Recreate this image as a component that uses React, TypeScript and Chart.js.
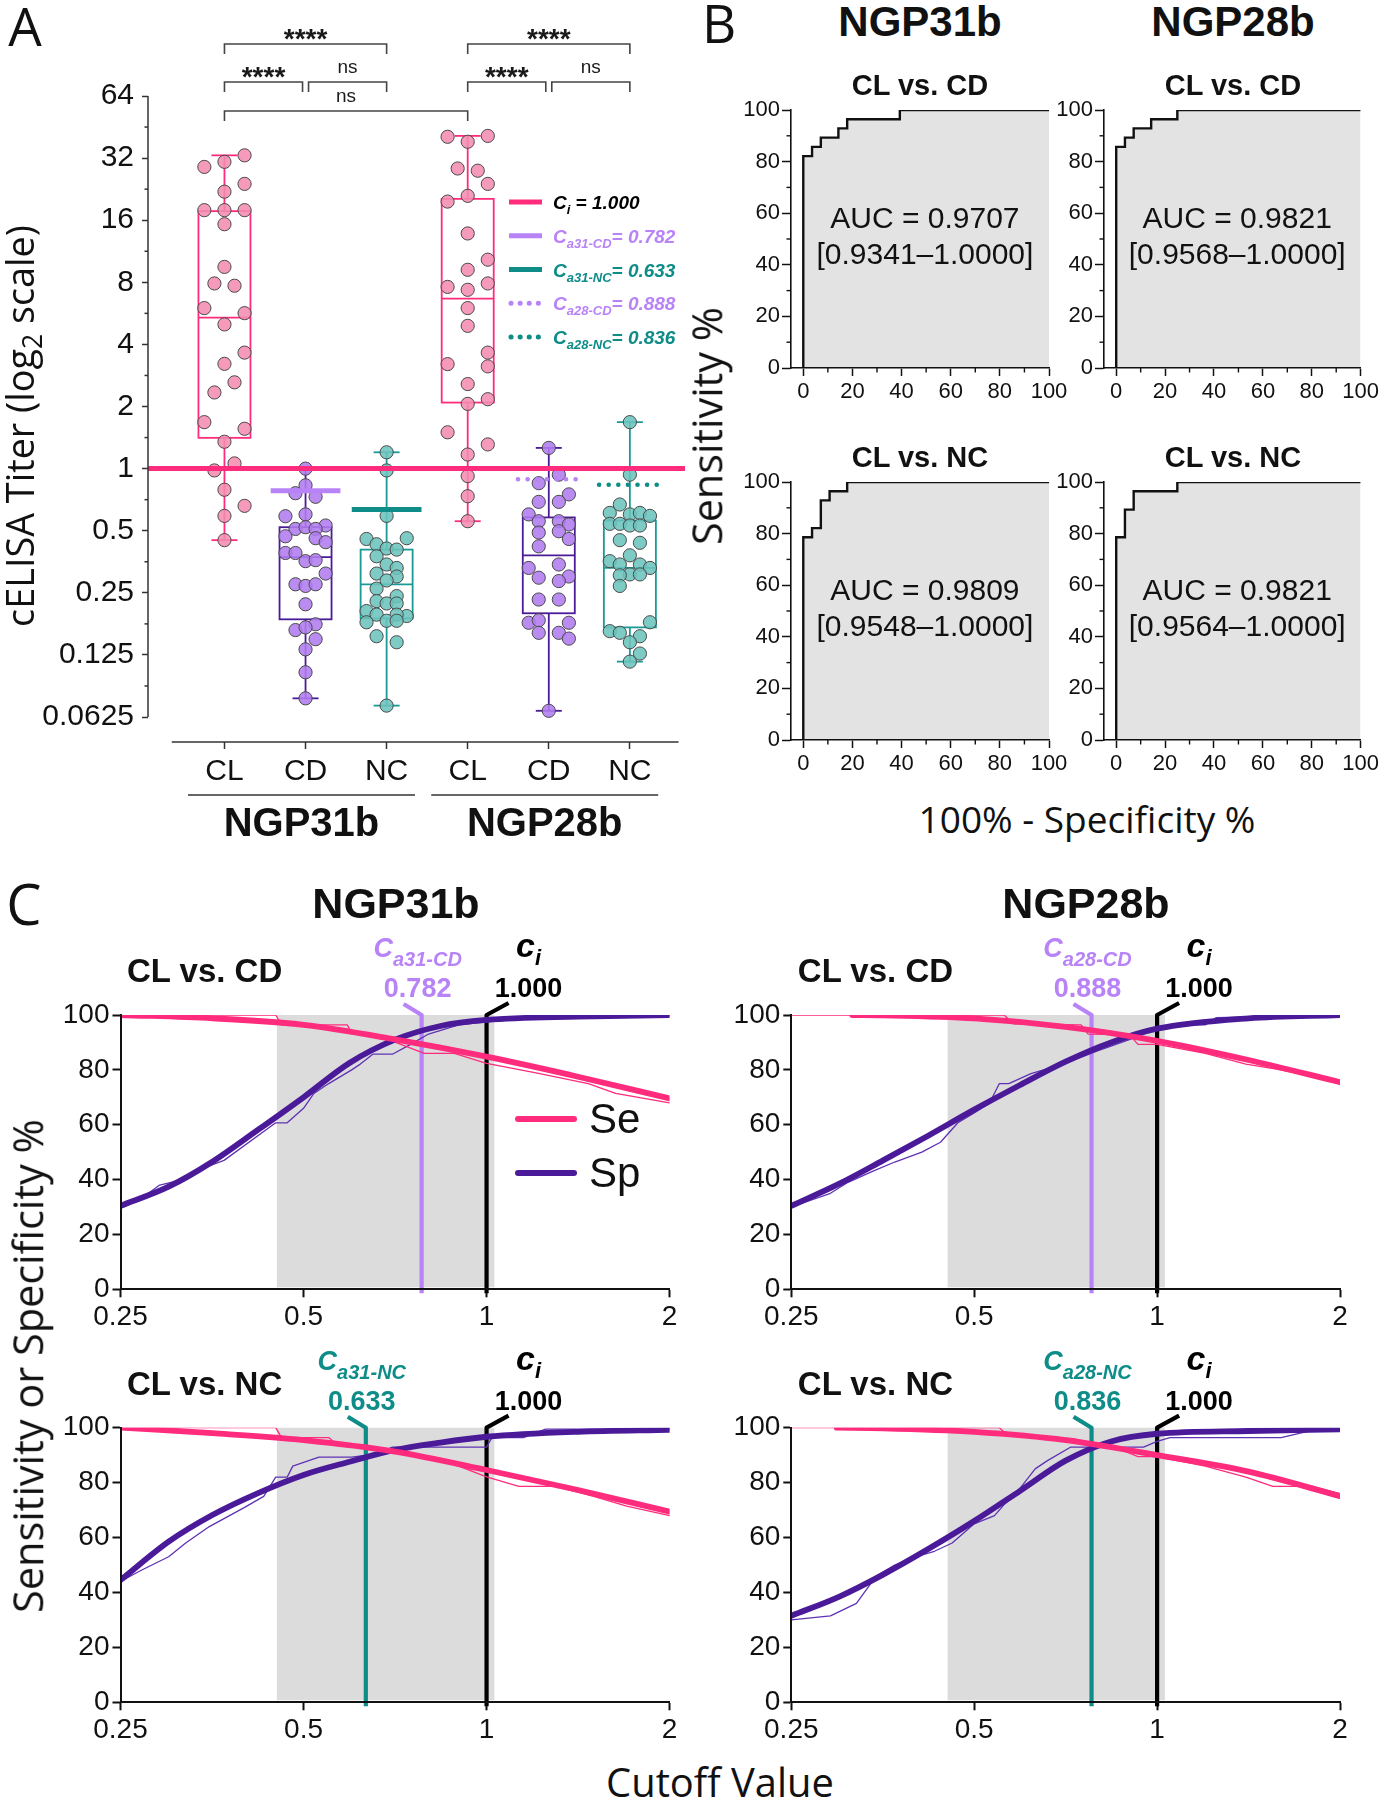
import React, { useEffect, useRef } from "react";
import { Chart, registerables } from "chart.js";

Chart.register(...registerables);

/* ======================= DATA ======================= */

// ---------- Panel A : cELISA titers ----------
const A_CATEGORIES = ["CL", "CD", "NC", "CL", "CD", "NC"];
const A_GROUPS = ["NGP31b", "NGP28b"];
const A_Y_TICKS = [0.0625, 0.125, 0.25, 0.5, 1, 2, 4, 8, 16, 32, 64];
const A_Y_TICK_LABELS = ["0.0625", "0.125", "0.25", "0.5", "1", "2", "4", "8", "16", "32", "64"];

const CL31_TITERS = [29, 30.7, 33, 24, 22, 17.9, 17.9, 17.9, 15.3, 9.5, 7.9, 7.7, 6.0, 5.67, 5.0, 3.65, 3.22, 2.62, 2.34, 1.68, 1.56, 1.35, 1.06, 0.98, 0.79, 0.66, 0.59, 0.45];
const CL31_COLUMNS = [-2, 0, 2, 2, 0, -2, 0, 2, 0, 0, -1, 1, -2, 2, 0, 2, 0, 1, -1, -2, 2, 0, 1, -1, 0, 2, 0, 0];
const CD31_TITERS = [1.0, 0.83, 0.76, 0.73, 0.6, 0.588, 0.53, 0.51, 0.52, 0.51, 0.47, 0.46, 0.44, 0.39, 0.39, 0.356, 0.36, 0.31, 0.275, 0.27, 0.275, 0.22, 0.176, 0.165, 0.17, 0.149, 0.133, 0.103, 0.077];
const CD31_COLUMNS = [0, 0, -1, 1, 0, -2, 2, -1, 0, 1, -2, 1, 2, -2, -1, 0, 1, 2, -1, 0, 1, 0, 1, -1, 0, 1, 0, 0, 0];
const NC31_TITERS = [1.2, 0.98, 0.59, 0.46, 0.456, 0.43, 0.41, 0.405, 0.376, 0.343, 0.33, 0.31, 0.3, 0.287, 0.262, 0.241, 0.228, 0.222, 0.222, 0.204, 0.196, 0.193, 0.196, 0.183, 0.18, 0.183, 0.154, 0.144, 0.071];
const NC31_COLUMNS = [0, 0, 0, 2, -2, -1, 0, 1, -1, 0, 1, -1, 1, 0, -1, 1, -1, 0, 1, -2, -1, 2, 1, 0, -2, 1, -1, 1, 0];
const CL28_TITERS = [40.6, 41, 38.4, 28.5, 27.8, 24, 21, 19.7, 13.8, 10.3, 9.2, 7.9, 7.6, 7.36, 6.0, 4.92, 3.65, 3.21, 3.13, 2.57, 2.17, 2.06, 1.5, 1.31, 1.17, 0.92, 0.735, 0.556];
const CL28_COLUMNS = [-2, 2, 0, -1, 1, 2, 0, -2, 0, 2, 0, 2, -2, 0, 0, 0, 2, -2, 2, 0, 2, 0, -2, 2, 0, 0, 0, 0];
const CD28_TITERS = [1.26, 0.935, 0.85, 0.75, 0.69, 0.69, 0.6, 0.556, 0.556, 0.536, 0.49, 0.497, 0.456, 0.42, 0.33, 0.343, 0.3, 0.296, 0.285, 0.232, 0.232, 0.179, 0.184, 0.179, 0.16, 0.16, 0.15, 0.067];
const CD28_COLUMNS = [0, 1, -1, 2, -1, 1, -2, -1, 1, 2, -1, 1, 2, -1, -2, 1, 2, -1, 1, -1, 1, -2, -1, 2, -1, 1, 2, 0];
const NC28_TITERS = [1.68, 0.935, 0.67, 0.61, 0.6, 0.61, 0.59, 0.54, 0.54, 0.53, 0.53, 0.45, 0.437, 0.38, 0.356, 0.343, 0.343, 0.33, 0.307, 0.304, 0.307, 0.27, 0.18, 0.163, 0.16, 0.154, 0.144, 0.127, 0.116];
const NC28_COLUMNS = [0, 0, -1, -2, 0, 1, 2, -2, -1, 0, 1, -1, 1, 0, -2, -1, 1, 2, 0, -1, 1, -1, 2, -2, -1, 1, 0, 1, 0];

const BOX_Q1 = [1.41, 0.186, 0.188, 2.09, 0.199, 0.17];
const BOX_MEDIAN = [5.4, 0.372, 0.275, 6.67, 0.38, 0.33];
const BOX_Q3 = [17.7, 0.52, 0.405, 20.3, 0.58, 0.56];
const BOX_MIN = [0.45, 0.077, 0.071, 0.556, 0.067, 0.116];
const BOX_MAX = [33, 1.0, 1.2, 41, 1.26, 1.68];

const CI_CUTOFF = 1.0;
const A_CUT_SUBS = ["a31-CD", "a31-NC", "a28-CD", "a28-NC"];
const A_CUT_VALUES = [0.782, 0.633, 0.888, 0.836];
const A_CUT_CATEGORY = [1, 2, 4, 5];

const A_SIG_FROM = [0, 0, 1, 0, 3, 3, 4];
const A_SIG_TO = [2, 1, 2, 3, 5, 4, 5];
const A_SIG_LABEL = ["****", "****", "ns", "ns", "****", "****", "ns"];
const A_SIG_ROW = [0, 1, 1, 2, 0, 1, 1];

// ---------- Panel B : ROC curves ----------
const ROC_TITLES = ["CL vs. CD", "CL vs. CD", "CL vs. NC", "CL vs. NC"];
const ROC_TICKS = [0, 20, 40, 60, 80, 100];
const ROC_MINOR_TICKS = [10, 30, 50, 70, 90];
const ROC_FPR_31CD = [0, 0, 3.57, 7.14, 14.29, 17.86, 39.29, 100];
const ROC_TPR_31CD = [0, 82.14, 85.71, 89.29, 92.86, 96.43, 100, 100];
const ROC_FPR_28CD = [0, 0, 3.57, 7.14, 14.29, 25, 100];
const ROC_TPR_28CD = [0, 85.71, 89.29, 92.86, 96.43, 100, 100];
const ROC_FPR_31NC = [0, 0, 3.57, 7.14, 10.71, 17.86, 100];
const ROC_TPR_31NC = [0, 78.57, 82.14, 92.86, 96.43, 100, 100];
const ROC_FPR_28NC = [0, 0, 3.57, 7.14, 25, 100];
const ROC_TPR_28NC = [0, 78.57, 89.29, 96.43, 100, 100];
const ROC_FPR = [ROC_FPR_31CD, ROC_FPR_28CD, ROC_FPR_31NC, ROC_FPR_28NC];
const ROC_TPR = [ROC_TPR_31CD, ROC_TPR_28CD, ROC_TPR_31NC, ROC_TPR_28NC];
const AUC_VALUES = ["0.9707", "0.9821", "0.9809", "0.9821"];
const AUC_RANGES = ["0.9341\u20131.0000", "0.9568\u20131.0000", "0.9548\u20131.0000", "0.9564\u20131.0000"];

// ---------- Panel C : Se / Sp versus cutoff ----------
const C_X_TICKS = [0.25, 0.5, 1, 2];
const C_X_TICK_LABELS = ["0.25", "0.5", "1", "2"];
const C_Y_TICKS = [0, 20, 40, 60, 80, 100];
const C_TITLES = ["CL vs. CD", "CL vs. CD", "CL vs. NC", "CL vs. NC"];
const C_GRAY_ZONE = [0.452, 1.03];
const C_CUT_SUBS = ["a31-CD", "a28-CD", "a31-NC", "a28-NC"];
const C_CUT_TEXT = ["0.782", "0.888", "0.633", "0.836"];
const C_CUT_LINE_AT = [0.782, 0.78, 0.633, 0.78];

const SE_FIT_X_31CD = [0.25, 0.354, 0.5, 0.707, 1, 1.414, 2];
const SE_FIT_Y_31CD = [100, 98.8, 96.4, 91.1, 84.8, 77.5, 69.6];
const SP_FIT_X_31CD = [0.25, 0.3, 0.354, 0.42, 0.5, 0.595, 0.707, 0.84, 1, 1.414, 2];
const SP_FIT_Y_31CD = [30.4, 37.4, 46.5, 58, 70, 82.5, 91, 96, 98.2, 99.4, 100];
const SE_RAW_X_31CD = [0.25, 0.45, 0.46, 0.59, 0.6, 0.7, 0.79, 0.885, 1.0, 1.2, 1.47, 1.63, 2];
const SE_RAW_Y_31CD = [100, 100, 96.4, 96.4, 93.5, 90.5, 86, 86, 82.4, 79, 75, 71.4, 68];
const SP_RAW_X_31CD = [0.25, 0.27, 0.29, 0.31, 0.35, 0.37, 0.45, 0.47, 0.5, 0.52, 0.55, 0.6, 0.62, 0.65, 0.7, 0.75, 0.8, 0.9, 1.0, 1.2, 2];
const SP_RAW_Y_31CD = [29.5, 33, 38, 39.5, 45, 47, 60.7, 60.7, 66, 71.4, 75, 80, 82.1, 85.7, 85.7, 89.3, 92.9, 96.4, 97.5, 99, 100];

const SE_FIT_X_28CD = [0.315, 0.354, 0.5, 0.707, 1, 1.414, 2];
const SE_FIT_Y_28CD = [100, 99.9, 98.8, 95.7, 90.6, 83.6, 75.5];
const SP_FIT_X_28CD = [0.25, 0.3, 0.354, 0.42, 0.5, 0.595, 0.707, 0.84, 1, 1.414, 2];
const SP_FIT_Y_28CD = [30.4, 38.5, 47, 56, 65.5, 74.5, 83, 90, 95, 98.8, 100];
const SE_RAW_X_28CD = [0.25, 0.56, 0.58, 0.75, 0.77, 0.9, 0.93, 1.0, 1.2, 1.4, 1.6, 2];
const SE_RAW_Y_28CD = [100, 100, 96.8, 96.4, 93, 92.9, 89.3, 89.3, 86, 82.1, 80, 75.5];
const SP_RAW_X_28CD = [0.25, 0.29, 0.31, 0.34, 0.37, 0.41, 0.44, 0.47, 0.5, 0.53, 0.55, 0.57, 0.62, 0.7, 0.8, 0.9, 1.0, 1.1, 1.2, 1.25, 2];
const SP_RAW_Y_28CD = [30, 35, 39, 43, 46.4, 50, 53.6, 60.7, 64.3, 67.9, 75, 75, 78.6, 82.1, 87, 91, 95, 96.4, 96.4, 99, 100];

const SE_FIT_X_31NC = [0.25, 0.354, 0.5, 0.707, 1, 1.414, 2];
const SE_FIT_Y_31NC = [100, 98, 95.5, 91.3, 84.6, 77.3, 69.4];
const SP_FIT_X_31NC = [0.25, 0.3, 0.354, 0.42, 0.5, 0.595, 0.707, 0.84, 1, 1.414, 2];
const SP_FIT_Y_31NC = [44.5, 58.5, 68.2, 76.1, 82.8, 87.6, 91.9, 94.6, 96.7, 98.5, 99.2];
const SE_RAW_X_31NC = [0.25, 0.45, 0.46, 0.55, 0.57, 0.75, 0.9, 1.0, 1.13, 1.3, 1.5, 1.7, 2];
const SE_RAW_Y_31NC = [100, 100, 96.4, 96.4, 93.5, 91, 86, 82.1, 78.6, 78.6, 75, 71.4, 68];
const SP_RAW_X_31NC = [0.25, 0.27, 0.3, 0.32, 0.35, 0.4, 0.43, 0.45, 0.47, 0.48, 0.53, 0.6, 0.66, 0.7, 1.0, 1.02, 1.15, 1.25, 2];
const SP_RAW_Y_31NC = [44, 48, 53, 58, 64, 71, 75, 82, 82, 86, 89.3, 89.3, 90.5, 92.9, 92.9, 96.4, 96.4, 99.5, 99.5];

const SE_FIT_X_28NC = [0.297, 0.354, 0.5, 0.707, 1, 1.414, 2];
const SE_FIT_Y_28NC = [100, 99.8, 98.5, 95.5, 90, 84, 75.1];
const SP_FIT_X_28NC = [0.25, 0.3, 0.354, 0.42, 0.5, 0.595, 0.707, 0.84, 1, 1.414, 2];
const SP_FIT_Y_28NC = [31.5, 38.5, 46.5, 55.8, 66, 77, 88, 95, 97.8, 98.8, 99.4];
const SE_RAW_X_28NC = [0.25, 0.55, 0.57, 0.73, 0.76, 0.85, 0.93, 1.0, 1.2, 1.4, 1.55, 1.8, 2];
const SE_RAW_Y_28NC = [100, 100, 97, 96, 94, 93, 89.5, 89.5, 86, 82, 78.6, 78.6, 76];
const SP_RAW_X_28NC = [0.25, 0.29, 0.32, 0.345, 0.37, 0.4, 0.43, 0.46, 0.5, 0.54, 0.56, 0.58, 0.6, 0.63, 0.66, 0.72, 0.95, 1.0, 1.05, 1.6, 1.8, 2];
const SP_RAW_Y_28NC = [30, 31.5, 36, 46, 50, 53, 55, 58, 65, 68, 72, 75, 79, 85, 88, 92.9, 92.9, 95, 96.4, 96.4, 99, 99.5];

const C_SE_FIT = [[SE_FIT_X_31CD, SE_FIT_Y_31CD], [SE_FIT_X_28CD, SE_FIT_Y_28CD], [SE_FIT_X_31NC, SE_FIT_Y_31NC], [SE_FIT_X_28NC, SE_FIT_Y_28NC]];
const C_SP_FIT = [[SP_FIT_X_31CD, SP_FIT_Y_31CD], [SP_FIT_X_28CD, SP_FIT_Y_28CD], [SP_FIT_X_31NC, SP_FIT_Y_31NC], [SP_FIT_X_28NC, SP_FIT_Y_28NC]];
const C_SE_RAW = [[SE_RAW_X_31CD, SE_RAW_Y_31CD], [SE_RAW_X_28CD, SE_RAW_Y_28CD], [SE_RAW_X_31NC, SE_RAW_Y_31NC], [SE_RAW_X_28NC, SE_RAW_Y_28NC]];
const C_SP_RAW = [[SP_RAW_X_31CD, SP_RAW_Y_31CD], [SP_RAW_X_28CD, SP_RAW_Y_28CD], [SP_RAW_X_31NC, SP_RAW_Y_31NC], [SP_RAW_X_28NC, SP_RAW_Y_28NC]];

/* ======================= STYLE ======================= */
const SANS = '"Liberation Sans", Arial, Helvetica, sans-serif';
const TITLE = '"Open Sans", "Liberation Sans", sans-serif';
const INK = "#111111";
const PINK = "#FF2B7C";
const PURPLE = "#4B1A99";
const PURPLE_THIN = "#5E32B4";
const TEAL_BOX = "#1A9A95";
const LAVENDER = "#B983F8";
const TEAL = "#0E8C88";
const BOX_COLORS = [PINK, PURPLE, TEAL_BOX];
const POINT_FILLS = ["rgba(244,140,177,0.88)", "rgba(176,124,240,0.88)", "rgba(108,195,189,0.88)"];
const COL_STEP = 0.124;

Chart.defaults.font.family = SANS;

/* ======================= GEOMETRY ======================= */
type Geo = { l: number; t: number; r: number; b: number; cl: number; ct: number; cw: number; ch: number };
const A_GEO: Geo = { l: 148, t: 96, r: 685, b: 742, cl: 0, ct: 0, cw: 700, ch: 850 };
const A_X_MIN = -0.943;
const A_X_MAX = 5.68;
const A_Y_MIN = 0.0473;
const ROC_GEO: Geo[] = [
  { l: 791, t: 110, r: 1049, b: 368, cl: 731, ct: 90, cw: 342, ch: 320 },
  { l: 1104, t: 110, r: 1362, b: 368, cl: 1044, ct: 90, cw: 338, ch: 320 },
  { l: 791, t: 482, r: 1049, b: 740, cl: 731, ct: 462, cw: 342, ch: 320 },
  { l: 1104, t: 482, r: 1362, b: 740, cl: 1044, ct: 462, cw: 338, ch: 320 },
];
const C_GEO: Geo[] = [
  { l: 120.5, t: 1015, r: 669.6, b: 1289.3, cl: 40, ct: 915, cw: 655, ch: 424 },
  { l: 791.3, t: 1015, r: 1340, b: 1289.3, cl: 711, ct: 915, cw: 655, ch: 424 },
  { l: 120.5, t: 1427.7, r: 669.6, b: 1702.3, cl: 40, ct: 1327, cw: 655, ch: 424 },
  { l: 791.3, t: 1427.7, r: 1340, b: 1702.3, cl: 711, ct: 1327, cw: 655, ch: 424 },
];

/* ======================= HELPERS ======================= */
function seg(ctx: any, x1: number, y1: number, x2: number, y2: number) {
  ctx.beginPath();
  ctx.moveTo(x1, y1);
  ctx.lineTo(x2, y2);
  ctx.stroke();
}

type Rich = { t: string; size: number; dy?: number; color: string; font?: string };
function drawRich(ctx: any, parts: Rich[], x: number, baseline: number, align: "center" | "left") {
  const fonts = parts.map((p) => p.font ?? `italic bold ${p.size}px ${SANS}`);
  let total = 0;
  parts.forEach((p, i) => {
    ctx.font = fonts[i];
    total += ctx.measureText(p.t).width;
  });
  let cx = align === "center" ? x - total / 2 : x;
  ctx.textAlign = "left";
  ctx.textBaseline = "alphabetic";
  parts.forEach((p, i) => {
    ctx.font = fonts[i];
    ctx.fillStyle = p.color;
    ctx.fillText(p.t, cx, baseline + (p.dy ?? 0));
    cx += ctx.measureText(p.t).width;
  });
}

function pairs(xs: number[], ys: number[]) {
  return xs.map((x, i) => ({ x, y: ys[i] }));
}

function baseOptions(g: Geo) {
  return {
    responsive: false,
    animation: false,
    events: [],
    devicePixelRatio: window.devicePixelRatio || 1,
    layout: { padding: { left: 0, top: g.t - g.ct, right: g.cl + g.cw - g.r, bottom: 0 } },
    plugins: { legend: { display: false }, tooltip: { enabled: false }, title: { display: false } },
  };
}

/* ======================= PANEL A ======================= */
const A_POINT_SETS = [
  [CL31_TITERS, CL31_COLUMNS],
  [CD31_TITERS, CD31_COLUMNS],
  [NC31_TITERS, NC31_COLUMNS],
  [CL28_TITERS, CL28_COLUMNS],
  [CD28_TITERS, CD28_COLUMNS],
  [NC28_TITERS, NC28_COLUMNS],
];

const panelAPlugin = {
  id: "panelA",
  beforeDatasetsDraw(chart: any) {
    const { ctx, scales } = chart;
    const x = scales.x;
    const y = scales.y;
    ctx.save();
    ctx.lineWidth = 1.8;
    for (let i = 0; i < A_CATEGORIES.length; i++) {
      const px = x.getPixelForValue(i);
      ctx.strokeStyle = BOX_COLORS[i % 3];
      const q1 = y.getPixelForValue(BOX_Q1[i]);
      const q3 = y.getPixelForValue(BOX_Q3[i]);
      const md = y.getPixelForValue(BOX_MEDIAN[i]);
      const lo = y.getPixelForValue(BOX_MIN[i]);
      const hi = y.getPixelForValue(BOX_MAX[i]);
      ctx.strokeRect(px - 26, q3, 52, q1 - q3);
      seg(ctx, px - 26, md, px + 26, md);
      seg(ctx, px, q1, px, lo);
      seg(ctx, px, q3, px, hi);
      seg(ctx, px - 13, lo, px + 13, lo);
      seg(ctx, px - 13, hi, px + 13, hi);
    }
    ctx.restore();
  },
  afterDraw(chart: any) {
    const { ctx, chartArea: ca, scales } = chart;
    const x = scales.x;
    const y = scales.y;
    ctx.save();
    ctx.strokeStyle = "#333";
    ctx.lineWidth = 1.5;
    seg(ctx, ca.left, y.getPixelForValue(A_Y_TICKS[A_Y_TICKS.length - 1]), ca.left, y.getPixelForValue(A_Y_TICKS[0]));
    for (let i = 0; i < A_Y_TICKS.length - 1; i++) {
      const py = y.getPixelForValue(A_Y_TICKS[i] * Math.SQRT2);
      seg(ctx, ca.left - 3.5, py, ca.left, py);
    }
    seg(ctx, x.getPixelForValue(-0.65), ca.bottom, x.getPixelForValue(5.6), ca.bottom);

    A_GROUPS.forEach((gname, gi) => {
      const s = gi * 3;
      ctx.strokeStyle = "#333";
      ctx.lineWidth = 1.5;
      seg(ctx, x.getPixelForValue(s - 0.45), ca.bottom + 53, x.getPixelForValue(s + 2.35), ca.bottom + 53);
      ctx.fillStyle = INK;
      ctx.font = `bold 40px ${SANS}`;
      ctx.textAlign = "center";
      ctx.textBaseline = "alphabetic";
      ctx.fillText(gname, x.getPixelForValue(s + 0.95), ca.bottom + 80 + 14);
    });

    const rowY = [ca.top - 52, ca.top - 14, ca.top + 15];
    A_SIG_FROM.forEach((f, j) => {
      const to = A_SIG_TO[j];
      const row = A_SIG_ROW[j];
      let x1 = x.getPixelForValue(f);
      let x2 = x.getPixelForValue(to);
      const shareL = A_SIG_TO.some((t2, m) => m !== j && A_SIG_ROW[m] === row && t2 === f);
      const shareR = A_SIG_FROM.some((f2, m) => m !== j && A_SIG_ROW[m] === row && f2 === to);
      if (shareL) x1 += 3;
      if (shareR) x2 -= 3;
      const yy = rowY[row];
      ctx.strokeStyle = "#444";
      ctx.lineWidth = 1.6;
      ctx.beginPath();
      ctx.moveTo(x1, yy + 10);
      ctx.lineTo(x1, yy);
      ctx.lineTo(x2, yy);
      ctx.lineTo(x2, yy + 10);
      ctx.stroke();
      const label = A_SIG_LABEL[j];
      ctx.fillStyle = "#1a1a1a";
      ctx.textAlign = "center";
      ctx.textBaseline = "alphabetic";
      if (label === "ns") {
        ctx.font = `19px ${SANS}`;
        ctx.fillText(label, (x1 + x2) / 2, yy - 14 + 5);
      } else {
        ctx.font = `bold 28px ${SANS}`;
        ctx.fillText(label, (x1 + x2) / 2, yy - 12 + 16);
      }
    });

    const lx = ca.right - 176;
    const rows = [
      { sub: "i", value: " = " + CI_CUTOFF.toFixed(3), text: "#000", line: PINK, dotted: false },
      ...A_CUT_SUBS.map((s, j) => ({
        sub: s,
        value: "= " + A_CUT_VALUES[j].toFixed(3),
        text: j % 2 === 0 ? LAVENDER : TEAL,
        line: j % 2 === 0 ? LAVENDER : TEAL,
        dotted: j >= 2,
      })),
    ];
    rows.forEach((r, k) => {
      const cy = ca.top + 106 + k * 33.75;
      ctx.strokeStyle = r.line;
      ctx.lineWidth = 5;
      ctx.setLineDash(r.dotted ? [0.1, 9] : []);
      ctx.lineCap = r.dotted ? "round" : "butt";
      seg(ctx, lx + (r.dotted ? 2 : 0), cy, lx + 33, cy);
      ctx.setLineDash([]);
      ctx.lineCap = "butt";
      drawRich(
        ctx,
        [
          { t: "C", size: 19, color: r.text },
          { t: r.sub, size: 13, dy: 5, color: r.text },
          { t: r.value, size: 19, color: r.text },
        ],
        lx + 44,
        cy + 7,
        "left"
      );
    });
    ctx.restore();
  },
};

function buildA(g: Geo) {
  const datasets: any[] = A_POINT_SETS.map(([titers, cols], i) => ({
    type: "scatter",
    data: titers.map((v, k) => ({ x: i + cols[k] * COL_STEP, y: v })),
    pointRadius: 6.6,
    pointBackgroundColor: POINT_FILLS[i % 3],
    pointBorderColor: "#4a4a4a",
    pointBorderWidth: 1,
    showLine: false,
    order: 3,
  }));
  A_CUT_CATEGORY.forEach((c, j) => {
    const dotted = j >= 2;
    const half = dotted ? 0.38 : 0.43;
    datasets.push({
      type: "scatter",
      showLine: true,
      data: [
        { x: c - half, y: A_CUT_VALUES[j] },
        { x: c + half, y: A_CUT_VALUES[j] },
      ],
      borderColor: j % 2 === 0 ? LAVENDER : TEAL,
      borderWidth: dotted ? 4.5 : 5,
      borderDash: dotted ? [0.1, 9.5] : [],
      borderCapStyle: dotted ? "round" : "butt",
      pointRadius: 0,
      order: 1,
    });
  });
  datasets.push({
    type: "scatter",
    showLine: true,
    data: [
      { x: A_X_MIN, y: CI_CUTOFF },
      { x: A_X_MAX, y: CI_CUTOFF },
    ],
    borderColor: PINK,
    borderWidth: 5,
    pointRadius: 0,
    order: 0,
  });
  return {
    type: "scatter",
    data: { datasets },
    options: {
      ...baseOptions(g),
      scales: {
        x: {
          type: "linear",
          min: A_X_MIN,
          max: A_X_MAX,
          afterBuildTicks: (s: any) => {
            s.ticks = A_CATEGORIES.map((_, i) => ({ value: i }));
          },
          afterFit: (s: any) => {
            s.height = g.ct + g.ch - g.b;
          },
          ticks: {
            callback: (v: any) => A_CATEGORIES[Math.round(v)] ?? "",
            autoSkip: false,
            maxRotation: 0,
            font: { family: SANS, size: 30 },
            color: INK,
            padding: 5,
          },
          grid: { drawOnChartArea: false, drawTicks: true, tickLength: 7, tickColor: "#333", tickWidth: 1.5 },
          border: { display: false },
        },
        y: {
          type: "logarithmic",
          min: A_Y_MIN,
          max: A_Y_TICKS[A_Y_TICKS.length - 1],
          afterBuildTicks: (s: any) => {
            s.ticks = A_Y_TICKS.map((v) => ({ value: v }));
          },
          afterFit: (s: any) => {
            s.width = g.l - g.cl;
          },
          ticks: {
            callback: (v: any) => A_Y_TICK_LABELS[A_Y_TICKS.indexOf(v)] ?? "",
            autoSkip: false,
            font: { family: SANS, size: 30 },
            color: INK,
            padding: 8,
          },
          grid: { drawOnChartArea: false, drawTicks: true, tickLength: 6, tickColor: "#333", tickWidth: 1.5 },
          border: { display: false },
        },
      },
    },
    plugins: [panelAPlugin],
  };
}

/* ======================= PANEL B ======================= */
function rocPlugin(k: number) {
  return {
    id: "roc" + k,
    afterDraw(chart: any) {
      const { ctx, chartArea: ca, scales } = chart;
      const x = scales.x;
      const y = scales.y;
      ctx.save();
      ctx.strokeStyle = INK;
      ctx.lineWidth = 1.4;
      ROC_MINOR_TICKS.forEach((v) => {
        const px = x.getPixelForValue(v);
        seg(ctx, px, ca.bottom, px, ca.bottom + 4.5);
        const py = y.getPixelForValue(v);
        seg(ctx, ca.left - 4.5, py, ca.left, py);
      });
      ctx.fillStyle = INK;
      ctx.font = `30px ${SANS}`;
      ctx.textAlign = "center";
      ctx.textBaseline = "middle";
      ctx.fillText(`AUC = ${AUC_VALUES[k]}`, x.getPixelForValue(49.5), y.getPixelForValue(57.3));
      ctx.fillText(`[${AUC_RANGES[k]}]`, x.getPixelForValue(49.5), y.getPixelForValue(43.4));
      ctx.restore();
    },
  };
}

function buildRoc(k: number, g: Geo) {
  const tickFont = { family: SANS, size: 22 };
  return {
    type: "line",
    data: {
      datasets: [
        {
          data: pairs(ROC_FPR[k], ROC_TPR[k]),
          stepped: "before",
          borderColor: INK,
          borderWidth: 2.4,
          pointRadius: 0,
          fill: "origin",
          backgroundColor: "#E3E3E3",
        },
      ],
    },
    options: {
      ...baseOptions(g),
      scales: {
        x: {
          type: "linear",
          min: -5,
          max: 100,
          afterBuildTicks: (s: any) => {
            s.ticks = ROC_TICKS.map((v) => ({ value: v }));
          },
          afterFit: (s: any) => {
            s.height = g.ct + g.ch - g.b;
          },
          ticks: { autoSkip: false, maxRotation: 0, font: tickFont, color: INK, padding: 3 },
          grid: { drawOnChartArea: false, tickLength: 8, tickColor: INK, tickWidth: 1.5 },
          border: { color: INK, width: 1.6, z: 1 },
        },
        y: {
          type: "linear",
          min: 0,
          max: 100,
          afterBuildTicks: (s: any) => {
            s.ticks = ROC_TICKS.map((v) => ({ value: v }));
          },
          afterFit: (s: any) => {
            s.width = g.l - g.cl;
          },
          ticks: { autoSkip: false, font: tickFont, color: INK, padding: 2 },
          grid: { drawOnChartArea: false, tickLength: 9, tickColor: INK, tickWidth: 1.5 },
          border: { color: INK, width: 1.6, z: 1 },
        },
      },
    },
    plugins: [rocPlugin(k)],
  };
}

/* ======================= PANEL C ======================= */
function cutPlugin(k: number) {
  const cutColor = k < 2 ? LAVENDER : TEAL;
  return {
    id: "cut" + k,
    beforeDatasetsDraw(chart: any) {
      const { ctx, chartArea: ca, scales } = chart;
      const x = scales.x;
      const y = scales.y;
      ctx.save();
      ctx.fillStyle = "#DCDCDC";
      const gx1 = x.getPixelForValue(C_GRAY_ZONE[0]);
      const gx2 = x.getPixelForValue(C_GRAY_ZONE[1]);
      ctx.fillRect(gx1, y.getPixelForValue(100), gx2 - gx1, y.getPixelForValue(0) - y.getPixelForValue(100) - 2);
      ctx.lineWidth = 4.2;
      ctx.lineJoin = "round";
      const pa = x.getPixelForValue(C_CUT_LINE_AT[k]);
      ctx.strokeStyle = cutColor;
      ctx.beginPath();
      ctx.moveTo(pa, ca.bottom + 4);
      ctx.lineTo(pa, ca.top);
      ctx.lineTo(pa - 18, ca.top - 11);
      ctx.stroke();
      const pi = x.getPixelForValue(CI_CUTOFF);
      ctx.strokeStyle = "#000";
      ctx.beginPath();
      ctx.moveTo(pi, ca.bottom + 4);
      ctx.lineTo(pi, ca.top);
      ctx.lineTo(pi + 22, ca.top - 12);
      ctx.stroke();
      ctx.restore();
    },
    afterDraw(chart: any) {
      const { ctx, chartArea: ca, scales } = chart;
      const x = scales.x;
      ctx.save();
      const pa = x.getPixelForValue(C_CUT_LINE_AT[k]) - 4;
      drawRich(
        ctx,
        [
          { t: "C", size: 27, color: cutColor },
          { t: C_CUT_SUBS[k], size: 20, dy: 9, color: cutColor },
        ],
        pa,
        ca.top - 58,
        "center"
      );
      ctx.font = `bold 27px ${SANS}`;
      ctx.fillStyle = cutColor;
      ctx.textAlign = "center";
      ctx.textBaseline = "alphabetic";
      ctx.fillText(C_CUT_TEXT[k], pa, ca.top - 18);
      const pi = x.getPixelForValue(CI_CUTOFF) + 42;
      drawRich(
        ctx,
        [
          { t: "c", size: 34, color: "#000" },
          { t: "i", size: 22, dy: 8, color: "#000" },
        ],
        pi,
        ca.top - 58,
        "center"
      );
      ctx.font = `bold 27px ${SANS}`;
      ctx.fillStyle = "#000";
      ctx.textAlign = "center";
      ctx.fillText(CI_CUTOFF.toFixed(3), pi, ca.top - 18);

      if (k === 0) {
        const lx = ca.left + 397.5;
        const items: [string, string, number, number][] = [
          ["Se", PINK, 104, 118],
          ["Sp", PURPLE, 158, 172],
        ];
        items.forEach(([label, color, dy, base]) => {
          ctx.strokeStyle = color;
          ctx.lineWidth = 6;
          ctx.lineCap = "round";
          seg(ctx, lx, ca.top + dy, lx + 56, ca.top + dy);
          ctx.fillStyle = INK;
          ctx.font = `42px ${SANS}`;
          ctx.textAlign = "left";
          ctx.textBaseline = "alphabetic";
          ctx.fillText(label, ca.left + 468.5, ca.top + base);
        });
      }
      ctx.restore();
    },
  };
}

function buildC(k: number, g: Geo) {
  const tickFont = { family: SANS, size: 28 };
  const datasets = [
    { data: pairs(C_SE_FIT[k][0], C_SE_FIT[k][1]), borderColor: PINK, borderWidth: 5.8, cubicInterpolationMode: "monotone", order: 0 },
    { data: pairs(C_SP_FIT[k][0], C_SP_FIT[k][1]), borderColor: PURPLE, borderWidth: 5.8, cubicInterpolationMode: "monotone", order: 1 },
    { data: pairs(C_SE_RAW[k][0], C_SE_RAW[k][1]), borderColor: PINK, borderWidth: 1.3, order: 2 },
    { data: pairs(C_SP_RAW[k][0], C_SP_RAW[k][1]), borderColor: PURPLE_THIN, borderWidth: 1.3, order: 3 },
  ].map((d) => ({ ...d, pointRadius: 0, fill: false, borderCapStyle: "round", borderJoinStyle: "round" }));
  return {
    type: "line",
    data: { datasets },
    options: {
      ...baseOptions(g),
      scales: {
        x: {
          type: "logarithmic",
          min: C_X_TICKS[0],
          max: C_X_TICKS[C_X_TICKS.length - 1],
          afterBuildTicks: (s: any) => {
            s.ticks = C_X_TICKS.map((v) => ({ value: v }));
          },
          afterFit: (s: any) => {
            s.height = g.ct + g.ch - g.b;
          },
          ticks: {
            callback: (v: any) => C_X_TICK_LABELS[C_X_TICKS.indexOf(v)] ?? "",
            autoSkip: false,
            maxRotation: 0,
            font: tickFont,
            color: INK,
            padding: 3,
          },
          grid: { drawOnChartArea: false, tickLength: 8, tickColor: INK, tickWidth: 2 },
          border: { color: INK, width: 2, z: 1 },
        },
        y: {
          type: "linear",
          min: 0,
          max: 100,
          afterBuildTicks: (s: any) => {
            s.ticks = C_Y_TICKS.map((v) => ({ value: v }));
          },
          afterFit: (s: any) => {
            s.width = g.l - g.cl;
          },
          ticks: { autoSkip: false, font: tickFont, color: INK, padding: 3 },
          grid: { drawOnChartArea: false, tickLength: 8, tickColor: INK, tickWidth: 2 },
          border: { color: INK, width: 2, z: 1 },
        },
      },
    },
    plugins: [cutPlugin(k)],
  };
}

/* ======================= COMPONENTS ======================= */
function ChartCanvas({ geo, build }: { geo: Geo; build: (g: Geo) => any }) {
  const ref = useRef<HTMLCanvasElement | null>(null);
  useEffect(() => {
    if (!ref.current) return;
    const chart = new Chart(ref.current, build(geo));
    return () => chart.destroy();
  }, []);
  return (
    <div style={{ position: "absolute", left: geo.cl, top: geo.ct, width: geo.cw, height: geo.ch }}>
      <canvas ref={ref} width={geo.cw} height={geo.ch} style={{ width: geo.cw, height: geo.ch, display: "block" }} />
    </div>
  );
}

let measureCtx: CanvasRenderingContext2D | null = null;
function fitFont(parts: [string, number][], weight: string, family: string, target: number) {
  if (!measureCtx) measureCtx = document.createElement("canvas").getContext("2d");
  let w = 0;
  for (const [t, sc] of parts) {
    measureCtx!.font = `${weight} ${100 * sc}px ${family}`;
    w += measureCtx!.measureText(t).width;
  }
  return (100 * target) / w;
}

function Txt({ x, y, size, weight = 400, family = TITLE, rotate = false, align = "center", color = INK, children }: any) {
  const tx = align === "center" ? "-50%" : "0";
  return (
    <div
      style={{
        position: "absolute",
        left: x,
        top: y,
        transform: `translate(${tx}, -50%)${rotate ? " rotate(-90deg)" : ""}`,
        fontFamily: family,
        fontSize: size,
        fontWeight: weight,
        lineHeight: 1,
        whiteSpace: "nowrap",
        color,
      }}
    >
      {children}
    </div>
  );
}

export default function App() {
  const fA = fitFont([["cELISA Titer (log", 1], ["2", 0.7], [" scale)", 1]], "400", TITLE, 402);
  const fSensB = fitFont([["Sensitivity %", 1]], "400", TITLE, 238);
  const fSpecB = fitFont([["100% - Specificity %", 1]], "400", TITLE, 337);
  const fCut = fitFont([["Cutoff Value", 1]], "400", TITLE, 228);
  const fSensC = fitFont([["Sensitivity or Specificity %", 1]], "400", TITLE, 494);
  return (
    <div style={{ position: "absolute", left: 0, top: 0, width: 1382, height: 1800, background: "#fff", overflow: "hidden" }}>
      <ChartCanvas geo={A_GEO} build={buildA} />
      {ROC_GEO.map((g, k) => (
        <ChartCanvas key={"roc" + k} geo={g} build={(gg) => buildRoc(k, gg)} />
      ))}
      {C_GEO.map((g, k) => (
        <ChartCanvas key={"c" + k} geo={g} build={(gg) => buildC(k, gg)} />
      ))}

      <Txt x={25} y={25} size={53}>A</Txt>
      <Txt x={719} y={22} size={53}>B</Txt>
      <Txt x={24} y={902.5} size={56}>C</Txt>

      <Txt x={20} y={425.5} size={fA} rotate>
        cELISA Titer (log<span style={{ fontSize: "0.7em", position: "relative", top: "0.3em" }}>2</span> scale)
      </Txt>

      <Txt x={920} y={22} size={42} weight={700} family={SANS}>{A_GROUPS[0]}</Txt>
      <Txt x={1233} y={22} size={42} weight={700} family={SANS}>{A_GROUPS[1]}</Txt>
      {ROC_GEO.map((g, k) => (
        <Txt key={"rt" + k} x={(g.l + g.r) / 2} y={g.t - 25} size={29} weight={700} family={SANS}>
          {ROC_TITLES[k]}
        </Txt>
      ))}
      <Txt x={707} y={426} size={fSensB} rotate>Sensitivity %</Txt>
      <Txt x={1087} y={819} size={fSpecB}>100% - Specificity %</Txt>

      <Txt x={396} y={903} size={43} weight={700} family={SANS}>{A_GROUPS[0]}</Txt>
      <Txt x={1086} y={903} size={43} weight={700} family={SANS}>{A_GROUPS[1]}</Txt>
      {C_GEO.map((g, k) => (
        <Txt key={"ct" + k} x={g.l + 6.5} y={g.t - 45} size={33} weight={700} family={SANS} align="left">
          {C_TITLES[k]}
        </Txt>
      ))}
      <Txt x={27.5} y={1366} size={fSensC} rotate>Sensitivity or Specificity %</Txt>
      <Txt x={720} y={1782} size={fCut}>Cutoff Value</Txt>
    </div>
  );
}
